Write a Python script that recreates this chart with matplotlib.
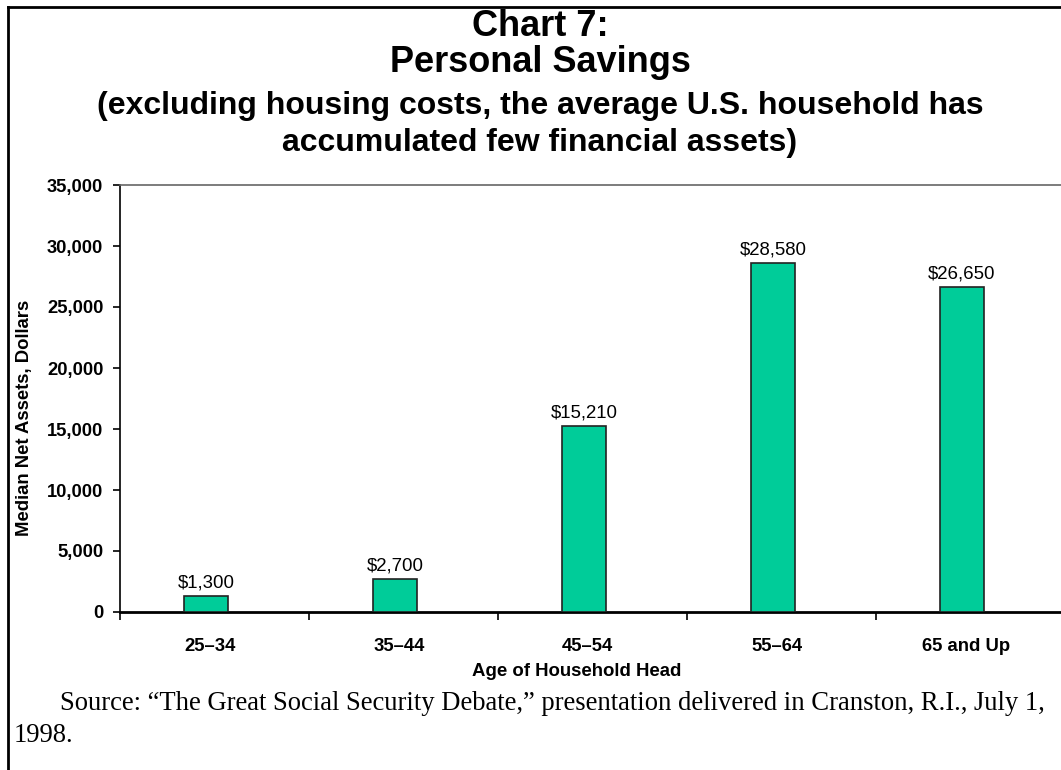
import numpy as np
import matplotlib.pyplot as plt
from matplotlib.ticker import FuncFormatter
from matplotlib.lines import Line2D

categories = ['25\u201334', '35\u201344', '45\u201354', '55\u201364', '65 and Up']
values = [1300, 2700, 15210, 28580, 26650]
bar_labels = ['$1,300', '$2,700', '$15,210', '$28,580', '$26,650']
yticks = [0, 5000, 10000, 15000, 20000, 25000, 30000, 35000]

title_lines = ['Chart 7:', 'Personal Savings',
               '(excluding housing costs, the average U.S. household has',
               'accumulated few financial assets)']
source_line1 = 'Source: \u201cThe Great Social Security Debate,\u201d presentation delivered in Cranston, R.I., July 1,'
source_line2 = '1998.'

sans = ['Liberation Sans', 'Arial', 'DejaVu Sans']
serif = ['Liberation Serif', 'Times New Roman', 'DejaVu Serif']

W, H = 1061, 770
fig = plt.figure(figsize=(W / 100, H / 100), dpi=100)
ax = fig.add_axes([120 / W, 1 - 612 / H, 945 / W, 427 / H])

x = np.arange(len(categories))
bars = ax.bar(x - 0.045, values, width=0.228, color='#00CC99',
              edgecolor='#222222', linewidth=1.2, zorder=3)
for b, lab in zip(bars, bar_labels):
    ax.annotate(lab, (b.get_x() + b.get_width() / 2, b.get_height()),
                xytext=(0, 3.5), textcoords='offset points',
                ha='center', va='bottom', fontsize=13.4, family=sans)

ax.set_xlim(-0.5, 4.5)
ax.set_ylim(0, 35000)

# tick marks at category boundaries, labels near bar centres
ax.set_xticks(np.arange(-0.5, 4.6, 1.0))
ax.set_xticklabels([])
ax.set_xticks(x - 0.025, minor=True)
ax.set_xticklabels(categories, minor=True, fontsize=13.3,
                   fontweight='bold', family=sans)
ax.tick_params(axis='x', which='major', direction='out', length=6, width=1.2)
ax.tick_params(axis='x', which='minor', length=0, pad=18.5)

ax.set_yticks(yticks)
ax.yaxis.set_major_formatter(FuncFormatter(lambda v, _: '{:,.0f}'.format(v)))
ax.tick_params(axis='y', direction='out', length=5, width=1.2, pad=7)
for t in ax.get_yticklabels():
    t.set_fontsize(13.2)
    t.set_fontweight('bold')
    t.set_family(sans)

ax.spines['right'].set_visible(False)
ax.spines['top'].set_color('#666666')
ax.spines['top'].set_linewidth(1.2)
ax.spines['left'].set_linewidth(1.2)
ax.spines['bottom'].set_linewidth(2)

fig.text(25 / W, 1 - 418 / H, 'Median Net Assets, Dollars', rotation=90,
         ha='center', va='center', fontsize=13.3, fontweight='bold',
         family=sans)
fig.text(577 / W, 1 - 671 / H, 'Age of Household Head', ha='center',
         va='center', fontsize=13.4, fontweight='bold', family=sans)

# title block
title_y = [27, 63, 106, 143]
title_sizes = [26, 26, 23, 23]
for line, yy, fs in zip(title_lines, title_y, title_sizes):
    fig.text(540 / W, 1 - yy / H, line, ha='center', va='center',
             fontsize=fs, fontweight='bold', family=sans)

fig.text(60 / W, 1 - 710 / H, source_line1, ha='left', va='baseline',
         fontsize=19.2, family=serif)
fig.text(14 / W, 1 - 742 / H, source_line2, ha='left', va='baseline',
         fontsize=19.2, family=serif)

# page frame: top and left border
fig.add_artist(Line2D([8 / W, 1], [1 - 7 / H, 1 - 7 / H],
                      transform=fig.transFigure, color='black', linewidth=2))
fig.add_artist(Line2D([8 / W, 8 / W], [0, 1 - 7 / H],
                      transform=fig.transFigure, color='black', linewidth=2))

fig.savefig('out.png', dpi=100)
plt.close(fig)
